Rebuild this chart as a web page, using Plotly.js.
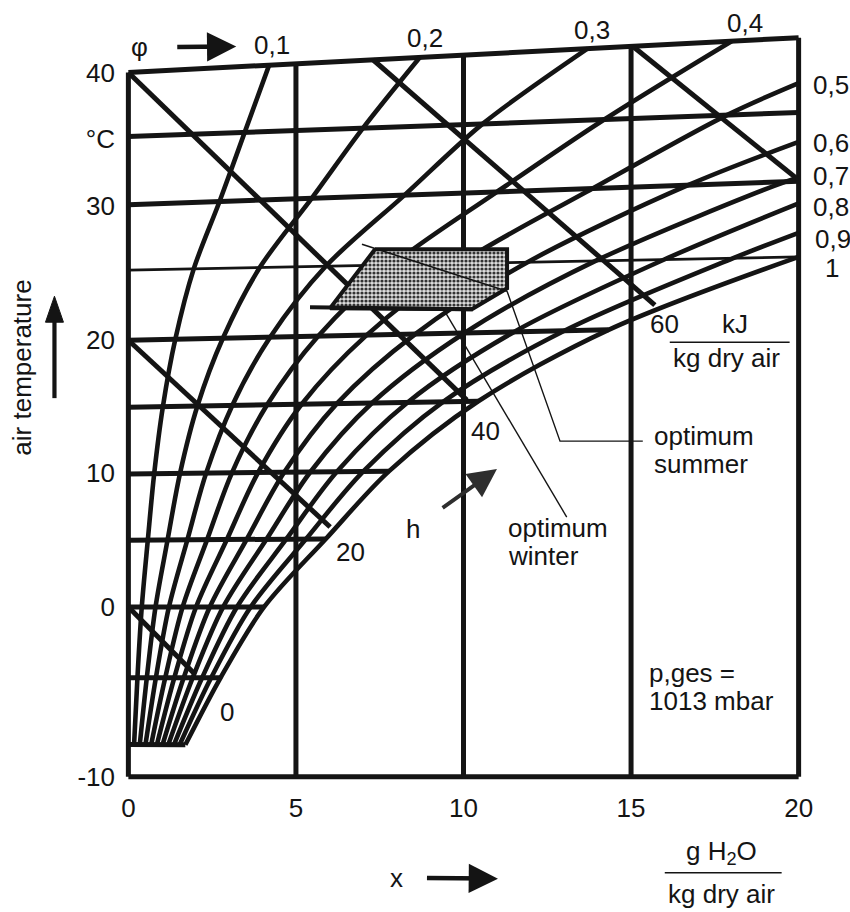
<!DOCTYPE html>
<html><head><meta charset="utf-8">
<script src="https://cdn.plot.ly/plotly-3.0.1.min.js"></script>
<style>html,body{margin:0;padding:0;background:#fff}#chart{width:850px;height:912px}</style>
</head><body><div id="chart"></div>
<script>
// ---------------- data ----------------
const xTickVals = [0, 5, 10, 15, 20];
const xTickText = ['0', '5', '10', '15', '20'];
const yTickVals = [-12.7, 0, 10, 20, 30, 35, 40];
const yTickText = ['-10', '0', '10', '20', '30', '°C', '40'];
const yBottom = -12.7;

// isotherms (°C): chart height at x = 0, rise of the line at x = 20, end x
const isoTemps  = [-10, -5, 0, 5, 10, 15, 20, 25, 30, 35, 40];
const isoY0     = [-10.3, -5.3, 0, 5.0, 9.95, 14.95, 19.95, 25.2, 30.1, 35.2, 40.0];
const isoRise20 = [-0.2, 0, 0, 0.3, 0.55, 0.85, 1.1, 1.0, 1.75, 1.8, 2.6];
const isoEndX   = [1.70, 2.75, 4.05, 5.89, 7.78, 10.44, 14.33, 20, 20, 20, 20];

// relative humidity curves: x (g/kg) where each crosses the isotherms above
const phiNames = ['0,1', '0,2', '0,3', '0,4', '0,5', '0,6', '0,7', '0,8', '0,9', '1'];
const phi01 = [0.17, 0.27, 0.40, 0.58, 0.77, 1.03, 1.40, 1.95, 2.72, 3.47, 4.2];
const phi02 = [0.34, 0.55, 0.81, 1.17, 1.54, 2.06, 2.82, 3.92, 5.47, 7.0, 8.7];
const phi03 = [0.51, 0.82, 1.21, 1.76, 2.32, 3.10, 4.23, 5.89, 8.24, 10.57, 13.7];
const phi04 = [0.68, 1.10, 1.62, 2.35, 3.09, 4.14, 5.66, 7.88, 11.0, 14.2, 18.0];
const phi05 = [0.85, 1.37, 2.02, 2.94, 3.87, 5.17, 7.11, 9.89, 13.85, 17.86, null];
const phi06 = [1.02, 1.65, 2.43, 3.53, 4.65, 6.22, 8.56, 11.91, 16.7, null, null];
const phi07 = [1.19, 1.92, 2.83, 4.12, 5.43, 7.27, 10.03, 13.94, 19.6, null, null];
const phi08 = [1.36, 2.20, 3.24, 4.71, 6.22, 8.33, 11.51, 15.99, null, null, null];
const phi09 = [1.53, 2.47, 3.65, 5.30, 7.01, 9.39, 13.01, 18.05, null, null, null];
const phi10 = [1.70, 2.75, 4.05, 5.89, 7.78, 10.44, 14.33, 20.0, null, null, null];
const phiEdgeY = [null, null, null, null, 39.2, 34.8, 32.1, 30.2, 28.0, null]; // where curve meets x = 20

// enthalpy lines (kJ/kg dry air)
const hValues = [0, 20, 40, 60, 80];
const hStartX = [0, 0, 0, 7.3, 15.05];
const hStartY = [0, 19.96, 40.0, 40.95, 41.96];
const hEndX   = [1.95, 6.02, 10.1, 15.71, 19.94];
const hEndY   = [-4.95, 5.98, 15.48, 22.58, 32.07];

// comfort zone polygon and auxiliary lines
const comfortX = [7.36, 11.30, 11.30, 10.25, 6.02, 7.36];
const comfortY = [26.77, 26.77, 23.85, 22.28, 22.36, 26.77];
const iso22X = [5.42, 10.28];
const iso22Y = [22.43, 22.28];
const diagX = [6.97, 11.30];
const diagY = [27.14, 23.63];
const summerPtrX = [11.30, 12.88, 15.35];
const summerPtrY = [23.63, 12.41, 12.41];
const winterPtrX = [9.42, 13.08];
const winterPtrY = [22.21, 6.73];

// ---------------- layout geometry ----------------
const W = 850, H = 912;
const PX_X0 = 128, PX_PER_X = 33.55, PX_Y0 = 607, PX_PER_Y = 13.375;
const xRange = [-0.25, 20.25], yRange = [-13.1, 43.4];
const mL = PX_X0 + xRange[0] * PX_PER_X;
const plotW = (xRange[1] - xRange[0]) * PX_PER_X;
const mR = W - mL - plotW;
const mT = PX_Y0 - yRange[1] * PX_PER_Y;
const plotH = (yRange[1] - yRange[0]) * PX_PER_Y;
const mB = H - mT - plotH;
const px2x = px => (px - mL) / plotW;
const px2y = py => (mT + plotH - py) / plotH;

const INK = '#141414';
const FONT = 'Liberation Sans, Arial, Helvetica, sans-serif';
const LW = 5;
const traces = [];
function line(x, y, w, opts) {
  traces.push(Object.assign({type: 'scatter', mode: 'lines', x: x, y: y,
    line: {color: INK, width: w}, hoverinfo: 'skip', showlegend: false}, opts || {}));
}
const isoY = (i, x) => isoY0[i] + isoRise20[i] * x / 20;
const topY = x => isoY(isoTemps.length - 1, x);

// frame and vertical lines of the x grid
line([0, 20], [yBottom, yBottom], LW);
xTickVals.forEach(v => line([v, v], [yBottom, topY(v)], LW));

// isotherms
isoTemps.forEach((t, i) => {
  line([0, isoEndX[i]], [isoY(i, 0), isoY(i, isoEndX[i])], t === 25 ? 2.8 : LW);
});

// relative humidity curves
[phi01, phi02, phi03, phi04, phi05, phi06, phi07, phi08, phi09, phi10].forEach((arr, k) => {
  const xs = [], ys = [];
  arr.forEach((v, i) => { if (v !== null) { xs.push(v); ys.push(isoY(i, v)); } });
  if (phiEdgeY[k] !== null) { xs.push(20); ys.push(phiEdgeY[k]); }
  line(xs, ys, 4.6, {line: {color: INK, width: 4.6, shape: 'spline', smoothing: 0.9}});
});

// enthalpy lines
hValues.forEach((h, i) => line([hStartX[i], hEndX[i]], [hStartY[i], hEndY[i]], LW));

// comfort zone
traces.push({type: 'scatter', mode: 'lines', x: comfortX, y: comfortY, fill: 'toself',
  fillcolor: '#bdbdbd',
  fillpattern: {shape: '.', fgcolor: '#333333', bgcolor: '#dedede', size: 4, solidity: 0.5},
  line: {color: INK, width: 4}, hoverinfo: 'skip', showlegend: false});
line(iso22X, iso22Y, 4);
line(diagX, diagY, 1.6);
line(summerPtrX, summerPtrY, 1.4);
line(winterPtrX, winterPtrY, 1.4);

// ---------------- text ----------------
const ann = [];
function txt(s, px, py, o) {
  ann.push(Object.assign({text: s, xref: 'paper', yref: 'paper', x: px2x(px), y: px2y(py),
    showarrow: false, xanchor: 'center', yanchor: 'middle',
    font: {family: FONT, size: 26, color: INK}}, o || {}));
}
// text placed at the arrow tail, arrow drawn to the head position
function txtArrow(s, tx, ty, hx, hy, gap, w, col, size) {
  ann.push({text: s, xref: 'paper', yref: 'paper', x: px2x(hx), y: px2y(hy),
    axref: 'pixel', ayref: 'pixel', ax: tx - hx, ay: ty - hy, showarrow: true,
    arrowhead: 2, arrowsize: size || 1.3, arrowwidth: w, arrowcolor: col || INK,
    standoff: 0, startstandoff: gap, font: {family: FONT, size: 26, color: INK}});
}

txtArrow('φ', 139, 47, 236, 46, 28, 4.5);
const topLabelPos = [[272, 45], [425, 38], [592, 30], [745, 23]];
const sideLabelPos = [[811, 85], [811, 143], [811, 176], [811, 207], [813, 239], [823, 268]];
phiNames.forEach((n, k) => {
  if (k < 4) txt(n, topLabelPos[k][0], topLabelPos[k][1]);
  else txt(n, sideLabelPos[k - 4][0], sideLabelPos[k - 4][1], {xanchor: 'left'});
});
const hLabelPos = [[227, 712], [350, 552], [486, 431], [665, 324]];
hValues.forEach((h, i) => { if (i < hLabelPos.length) txt(String(h), hLabelPos[i][0], hLabelPos[i][1]); });
txt('kJ', 735, 324);
txt('kg dry air', 727, 358);
txt('optimum', 652, 436, {xanchor: 'left'});
txt('summer', 652, 464, {xanchor: 'left'});
txt('optimum', 506, 528, {xanchor: 'left'});
txt('winter', 506, 556, {xanchor: 'left'});
txtArrow('h', 413, 529, 497, 469, 26, 3.8, '#2e2e2e', 1.5);
txt('p,ges =', 647, 673, {xanchor: 'left'});
txt('1013 mbar', 647, 701, {xanchor: 'left'});
txtArrow('x', 397, 878, 498, 879, 22, 4.5);
txt('g H<sub>2</sub>O', 722, 853);
txt('kg dry air', 722, 894);
txt('air temperature', 22, 367, {textangle: -90});

// fraction bars and the vertical arrow beside the y-axis title (decoration)
const shapes = [
  {type: 'line', xref: 'paper', yref: 'paper', x0: px2x(670), x1: px2x(790), y0: px2y(342), y1: px2y(342),
   line: {color: INK, width: 1.6}},
  {type: 'line', xref: 'paper', yref: 'paper', x0: px2x(665), x1: px2x(782), y0: px2y(873), y1: px2y(873),
   line: {color: INK, width: 1.6}},
  {type: 'line', xref: 'paper', yref: 'paper', x0: px2x(54), x1: px2x(54), y0: px2y(398), y1: px2y(318),
   line: {color: INK, width: 4.2}},
  {type: 'path', xref: 'paper', yref: 'paper',
   path: 'M ' + px2x(45) + ' ' + px2y(322) + ' L ' + px2x(54) + ' ' + px2y(296) +
         ' L ' + px2x(63) + ' ' + px2y(322) + ' Z',
   fillcolor: INK, line: {color: INK, width: 1}}
];

const layout = {
  width: W, height: H,
  margin: {l: mL, r: mR, t: mT, b: mB, pad: 0},
  paper_bgcolor: '#fff', plot_bgcolor: '#fff',
  showlegend: false,
  font: {family: FONT, size: 26, color: INK},
  xaxis: {range: xRange, showgrid: false, zeroline: false, showline: false, ticks: '',
    tickvals: xTickVals, ticktext: xTickText, tickfont: {family: FONT, size: 26, color: INK},
    ticklabelstandoff: 8, fixedrange: true},
  yaxis: {range: yRange, showgrid: false, zeroline: false, showline: false, ticks: '',
    tickvals: yTickVals, ticktext: yTickText, tickfont: {family: FONT, size: 26, color: INK},
    ticklabelstandoff: 4, fixedrange: true},
  annotations: ann,
  shapes: shapes
};

Plotly.newPlot('chart', traces, layout, {displayModeBar: false, staticPlot: true});
</script>
</body></html>
